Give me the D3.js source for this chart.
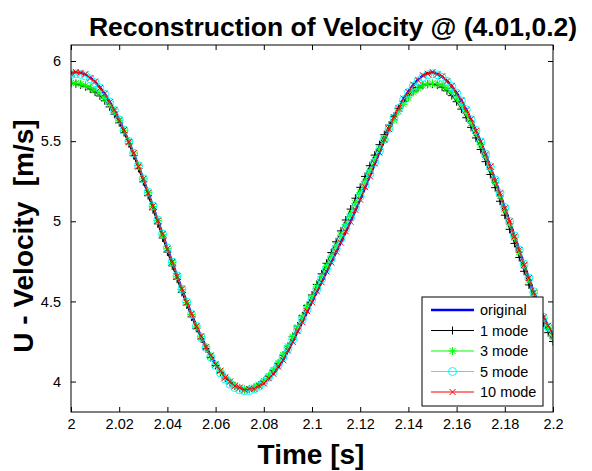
<!DOCTYPE html>
<html><head><meta charset="utf-8">
<script src="https://cdn.jsdelivr.net/npm/d3@7/dist/d3.min.js"></script>
<style>
body{margin:0;background:#fff}
svg{display:block}
text{font-family:Arial,"Liberation Sans",Helvetica,sans-serif}
</style>
</head><body><div id="chart"></div>
<script>
const time = [2.000,2.002,2.004,2.006,2.008,2.010,2.012,2.014,2.016,2.018,2.020,2.022,2.024,2.026,2.028,2.030,2.032,2.034,2.036,2.038,2.040,2.042,2.044,2.046,2.048,2.050,2.052,2.054,2.056,2.058,2.060,2.062,2.064,2.066,2.068,2.070,2.072,2.074,2.076,2.078,2.080,2.082,2.084,2.086,2.088,2.090,2.092,2.094,2.096,2.098,2.100,2.102,2.104,2.106,2.108,2.110,2.112,2.114,2.116,2.118,2.120,2.122,2.124,2.126,2.128,2.130,2.132,2.134,2.136,2.138,2.140,2.142,2.144,2.146,2.148,2.150,2.152,2.154,2.156,2.158,2.160,2.162,2.164,2.166,2.168,2.170,2.172,2.174,2.176,2.178,2.180,2.182,2.184,2.186,2.188,2.190,2.192,2.194,2.196,2.198,2.200];

const original = [5.928,5.930,5.926,5.915,5.895,5.869,5.835,5.794,5.746,5.692,5.632,5.567,5.497,5.422,5.344,5.262,5.178,5.093,5.006,4.918,4.831,4.744,4.659,4.576,4.496,4.420,4.347,4.280,4.217,4.160,4.109,4.065,4.027,3.997,3.974,3.959,3.951,
3.951,3.958,3.971,3.991,4.018,4.051,4.090,4.136,4.190,4.250,4.312,4.374,4.436,4.498,4.560,4.622,4.684,4.746,4.808,4.870,4.934,5.000,5.068,5.138,5.210,5.284,5.358,5.432,5.506,5.578,5.646,5.708,5.763,5.810,5.850,5.883,5.908,5.924,
5.929,5.920,5.902,5.876,5.842,5.800,5.752,5.696,5.634,5.566,5.494,5.418,5.338,5.256,5.171,5.084,4.996,4.907,4.818,4.730,4.643,4.558,4.476,4.405,4.345,4.290];

const mode1 = [5.862,5.858,5.851,5.840,5.825,5.806,5.782,5.752,5.714,5.668,5.615,5.553,5.484,5.410,5.330,5.246,5.160,5.072,4.984,4.896,4.808,4.722,4.638,4.556,4.478,4.403,4.332,4.266,4.205,4.150,4.100,4.058,4.022,3.993,3.972,3.958,3.951,
3.952,3.962,3.978,4.001,4.031,4.068,4.112,4.163,4.220,4.282,4.346,4.410,4.475,4.540,4.606,4.672,4.738,4.805,4.872,4.940,5.008,5.076,5.144,5.212,5.280,5.347,5.413,5.478,5.540,5.600,5.655,5.705,5.748,5.784,5.813,5.834,5.848,5.855,
5.856,5.850,5.836,5.814,5.784,5.746,5.700,5.646,5.586,5.520,5.448,5.372,5.292,5.210,5.125,5.038,4.950,4.862,4.774,4.688,4.603,4.520,4.440,4.365,4.305,4.250];

const mode3 = [5.864,5.862,5.857,5.848,5.835,5.818,5.795,5.766,5.729,5.684,5.630,5.568,5.500,5.426,5.347,5.264,5.179,5.092,5.004,4.916,4.829,4.742,4.657,4.574,4.494,4.418,4.346,4.279,4.216,4.160,4.110,4.066,4.029,3.999,3.976,3.961,3.953,
3.954,3.963,3.980,4.004,4.035,4.073,4.117,4.166,4.220,4.279,4.340,4.402,4.465,4.528,4.591,4.655,4.719,4.783,4.848,4.913,4.979,5.045,5.112,5.180,5.248,5.316,5.384,5.450,5.514,5.575,5.632,5.684,5.730,5.770,5.803,5.828,5.846,5.857,
5.861,5.858,5.848,5.830,5.804,5.769,5.725,5.673,5.614,5.549,5.478,5.403,5.324,5.242,5.158,5.072,4.985,4.897,4.809,4.722,4.636,4.552,4.471,4.394,4.332,4.276];

const mode5 = [5.915,5.920,5.917,5.907,5.889,5.864,5.832,5.792,5.745,5.692,5.633,5.569,5.499,5.425,5.347,5.266,5.182,5.096,5.009,4.921,4.833,4.746,4.660,4.577,4.496,4.419,4.345,4.276,4.212,4.153,4.100,4.054,4.015,3.984,3.962,3.948,3.942,
3.944,3.954,3.971,3.995,4.026,4.063,4.105,4.153,4.206,4.264,4.325,4.388,4.451,4.514,4.577,4.640,4.703,4.766,4.829,4.892,4.956,5.021,5.087,5.155,5.225,5.296,5.368,5.440,5.511,5.580,5.645,5.705,5.758,5.804,5.843,5.875,5.899,5.914,
5.920,5.914,5.898,5.873,5.840,5.799,5.751,5.696,5.635,5.568,5.496,5.420,5.341,5.259,5.174,5.087,4.999,4.910,4.821,4.733,4.646,4.561,4.479,4.401,4.340,4.283];

const mode10 = [5.922,5.932,5.927,5.919,5.893,5.872,5.832,5.797,5.743,5.695,5.629,5.570,5.494,5.425,5.341,5.265,5.175,5.096,5.003,4.921,4.828,4.747,4.656,4.579,4.493,4.423,4.344,4.283,4.214,4.163,4.106,4.068,4.024,4.000,3.971,3.962,3.948,
3.954,3.955,3.974,3.988,4.021,4.048,4.093,4.133,4.193,4.247,4.315,4.371,4.439,4.495,4.563,4.619,4.687,4.743,4.811,4.867,4.937,4.997,5.071,5.135,5.213,5.281,5.361,5.429,5.509,5.575,5.649,5.705,5.766,5.807,5.853,5.880,5.911,5.921,
5.932,5.917,5.905,5.873,5.845,5.797,5.755,5.693,5.637,5.563,5.497,5.415,5.341,5.253,5.174,5.081,4.999,4.904,4.821,4.727,4.646,4.555,4.479,4.402,4.348,4.287];

const xTicks = [2,2.02,2.04,2.06,2.08,2.1,2.12,2.14,2.16,2.18,2.2];
const xTickLabels = ["2","2.02","2.04","2.06","2.08","2.1","2.12","2.14","2.16","2.18","2.2"];
const yTicks = [4,4.5,5,5.5,6];
const yTickLabels = ["4","4.5","5","5.5","6"];
const seriesNames = ["original","1 mode","3 mode","5 mode","10 mode"];
const seriesColors = ["#0000ff","#000000","#00ff00","#00ffff","#ff0000"];
const titleText = "Reconstruction of Velocity @ (4.01,0.2)";
const xLabelText = "Time [s]";
const yLabelText = "U - Velocity  [m/s]";

const W = 592, H = 471;
const M = {left:71, right:553, top:45, bottom:412};

const svg = d3.select("#chart").append("svg").attr("width", W).attr("height", H);
svg.append("rect").attr("width", W).attr("height", H).attr("fill", "#fff");

const x = d3.scaleLinear().domain([2, 2.2]).range([M.left, M.right]);
const y = d3.scaleLinear().domain([3.81, 6.1]).range([M.bottom, M.top]);

svg.append("defs").append("clipPath").attr("id", "clip")
  .append("rect").attr("x", M.left).attr("y", M.top)
  .attr("width", M.right - M.left).attr("height", M.bottom - M.top);

const series = [original, mode1, mode3, mode5, mode10].map((vals, i) => ({
  name: seriesNames[i], color: seriesColors[i],
  pts: vals.map((v, j) => [time[j], v])
}));

const plot = svg.append("g").attr("clip-path", "url(#clip)");
const line = d3.line().x(d => x(d[0])).y(d => y(d[1]));

const markerPaths = {
  plus: "M-4,0H4M0,-4V4",
  star: "M-4,0H4M0,-4V4M-3,-3L3,3M-3,3L3,-3",
  cross: "M-3,-3L3,3M-3,3L3,-3"
};
const markerTypes = [null, "plus", "star", "circle", "cross"];

function drawMarker(g, type, color, cx, cy) {
  if (type === "circle") {
    g.append("circle").attr("cx", cx).attr("cy", cy).attr("r", 4)
      .attr("fill", "none").attr("stroke", color).attr("stroke-width", 1);
  } else {
    g.append("path").attr("d", markerPaths[type])
      .attr("transform", `translate(${cx},${cy})`)
      .attr("fill", "none").attr("stroke", color).attr("stroke-width", 1);
  }
}

series.forEach((s, i) => {
  plot.append("path").datum(s.pts).attr("d", line)
    .attr("fill", "none").attr("stroke", s.color)
    .attr("stroke-width", i === 0 ? 2.6 : 1);
  const t = markerTypes[i];
  if (t) {
    const g = plot.append("g");
    s.pts.forEach(p => drawMarker(g, t, s.color, x(p[0]), y(p[1])));
  }
});

// axes
const axStyle = g => {
  g.selectAll("path.domain").remove();
  g.selectAll("line").attr("stroke", "#000");
  g.selectAll("text").attr("fill", "#000").style("font-size", "14.5px");
};
svg.append("g").attr("transform", `translate(0,${M.bottom})`)
  .call(d3.axisBottom(x).tickValues(xTicks).tickFormat((d, i) => xTickLabels[i]).tickSizeInner(-5).tickSizeOuter(0).tickPadding(7))
  .call(axStyle);
svg.append("g").attr("transform", `translate(0,${M.top})`)
  .call(d3.axisTop(x).tickValues(xTicks).tickFormat("").tickSizeInner(-5).tickSizeOuter(0))
  .call(axStyle);
svg.append("g").attr("transform", `translate(${M.left},0)`)
  .call(d3.axisLeft(y).tickValues(yTicks).tickFormat((d, i) => yTickLabels[i]).tickSizeInner(-5).tickSizeOuter(0).tickPadding(10))
  .call(axStyle);
svg.append("g").attr("transform", `translate(${M.right},0)`)
  .call(d3.axisRight(y).tickValues(yTicks).tickFormat("").tickSizeInner(-5).tickSizeOuter(0))
  .call(axStyle);

svg.append("rect").attr("x", M.left).attr("y", M.top)
  .attr("width", M.right - M.left).attr("height", M.bottom - M.top)
  .attr("fill", "none").attr("stroke", "#000").attr("stroke-width", 1);

// titles
svg.append("text").attr("x", 333).attr("y", 36)
  .attr("text-anchor", "middle").style("font-size", "26.5px").style("font-weight", "bold")
  .text(titleText);
svg.append("text").attr("x", 311).attr("y", 464)
  .attr("text-anchor", "middle").style("font-size", "28px").style("font-weight", "bold")
  .text(xLabelText);
svg.append("text").attr("transform", `translate(33,${236}) rotate(-90)`)
  .attr("text-anchor", "middle").style("font-size", "28px").style("font-weight", "bold")
  .style("white-space", "pre")
  .text(yLabelText);

// legend
const L = {x: 422, y: 297, w: 121, h: 109};
const lg = svg.append("g");
lg.append("rect").attr("x", L.x).attr("y", L.y).attr("width", L.w).attr("height", L.h)
  .attr("fill", "#fff").attr("stroke", "#000").attr("stroke-width", 1);
series.forEach((s, i) => {
  const ry = L.y + 13 + i * 20.5;
  lg.append("line").attr("x1", L.x + 9).attr("x2", L.x + 52).attr("y1", ry).attr("y2", ry)
    .attr("stroke", s.color).attr("stroke-width", i === 0 ? 2.6 : 1);
  if (markerTypes[i]) drawMarker(lg, markerTypes[i], s.color, L.x + 30.5, ry);
  lg.append("text").attr("x", L.x + 58).attr("y", ry).attr("dy", "0.35em")
    .style("font-size", "14.5px").text(s.name);
});
</script>
</body></html>
